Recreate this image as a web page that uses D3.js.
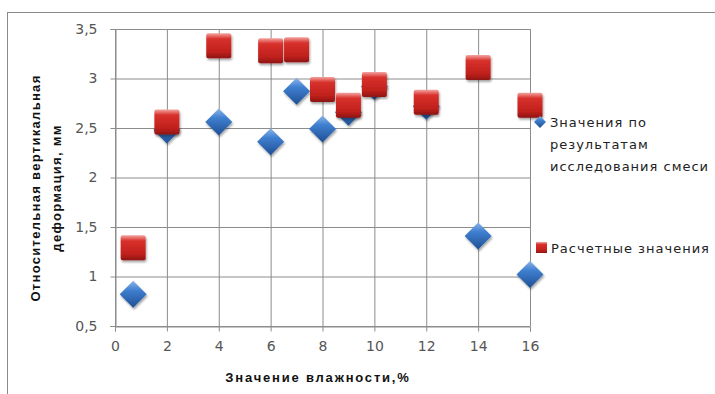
<!DOCTYPE html>
<html>
<head>
<meta charset="utf-8">
<script src="https://cdn.jsdelivr.net/npm/d3@7"></script>
<style>
  body { margin: 0; background: #fff; }
  svg { display: block; }
</style>
</head>
<body>
<svg id="svg" width="715" height="394"></svg>
<script>
var moisture = [0.7, 2, 4, 6, 7, 8, 9, 10, 12, 14, 16]
var measured = [0.82, 2.48, 2.56, 2.36, 2.87, 2.49, 2.66, 2.92, 2.72, 1.41, 1.02]
var calculated = [1.29, 2.56, 3.33, 3.28, 3.29, 2.89, 2.73, 2.94, 2.76, 3.11, 2.73]
var xTicks = [0, 2, 4, 6, 8, 10, 12, 14, 16]
var yTicks = [0.5, 1, 1.5, 2, 2.5, 3, 3.5]
var seriesNames = ["Значения по результатам исследования смеси", "Расчетные значения"]

var svg = d3.select("#svg")
var fmt = function (v) { return String(v).replace(".", ",") }

var x = d3.scaleLinear().domain([0, 16]).range([115, 530])
var y = d3.scaleLinear().domain([0.5, 3.5]).range([326, 29])

// gradients for markers
var defs = svg.append("defs")
var gr = defs.append("linearGradient").attr("id", "gRed").attr("x1", 0).attr("y1", 0).attr("x2", 0).attr("y2", 1)
gr.append("stop").attr("offset", "0%").attr("stop-color", "#f3a4a0")
gr.append("stop").attr("offset", "22%").attr("stop-color", "#d8312c")
gr.append("stop").attr("offset", "75%").attr("stop-color", "#c0201c")
gr.append("stop").attr("offset", "100%").attr("stop-color", "#8e1512")
var gb = defs.append("linearGradient").attr("id", "gBlue").attr("x1", 0).attr("y1", 0).attr("x2", 0).attr("y2", 1)
gb.append("stop").attr("offset", "0%").attr("stop-color", "#8db4e8")
gb.append("stop").attr("offset", "35%").attr("stop-color", "#3f7fd0")
gb.append("stop").attr("offset", "100%").attr("stop-color", "#1f4f93")
var sh = defs.append("filter").attr("id", "shadow").attr("x", "-30%").attr("y", "-30%").attr("width", "160%").attr("height", "160%")
sh.append("feDropShadow").attr("dx", 1).attr("dy", 2).attr("stdDeviation", 1.2).attr("flood-color", "#000").attr("flood-opacity", 0.35)

// outer frame
svg.append("rect").attr("x", 7.5).attr("y", 12.5).attr("width", 720).attr("height", 400)
    .attr("fill", "none").attr("stroke", "#8a8a8a")

// grid
var g = svg.append("g")
g.selectAll(".vgrid").data(xTicks).enter().append("line")
    .attr("x1", function (d) { return x(d) + 0.5 }).attr("x2", function (d) { return x(d) + 0.5 })
    .attr("y1", y(3.5)).attr("y2", y(0.5))
    .attr("stroke", "#8c8c8c").attr("stroke-width", 1)
g.selectAll(".hgrid").data(yTicks).enter().append("line")
    .attr("x1", x(0)).attr("x2", x(16))
    .attr("y1", function (d) { return y(d) + 0.5 }).attr("y2", function (d) { return y(d) + 0.5 })
    .attr("stroke", "#8c8c8c").attr("stroke-width", 1)

// axes
var xAxis = svg.append("g").attr("transform", "translate(0," + (y(0.5) + 0.5) + ")")
    .call(d3.axisBottom(x).tickValues(xTicks).tickFormat(fmt).tickSize(5).tickPadding(10))
var yAxis = svg.append("g").attr("transform", "translate(" + (x(0) + 0.5) + ",0)")
    .call(d3.axisLeft(y).tickValues(yTicks).tickFormat(fmt).tickSize(5).tickPadding(13))
;[xAxis, yAxis].forEach(function (a) {
    a.select(".domain").attr("stroke", "#8c8c8c")
    a.selectAll(".tick line").attr("stroke", "#8c8c8c")
    a.selectAll("text").attr("fill", "#555").style("font-family", "DejaVu Sans, Verdana, sans-serif").style("font-size", "14px")
})

// series: measured (diamonds) under calculated (squares)
var diamond = "M0,-13.5L13.5,0L0,13.5L-13.5,0Z"
svg.append("g").selectAll("path").data(moisture).enter().append("path")
    .attr("d", diamond)
    .attr("transform", function (d, i) { return "translate(" + x(d) + "," + y(measured[i]) + ")" })
    .attr("fill", "url(#gBlue)").attr("filter", "url(#shadow)")

svg.append("g").selectAll("rect").data(moisture).enter().append("rect")
    .attr("x", function (d) { return x(d) - 12.5 })
    .attr("y", function (d, i) { return y(calculated[i]) - 12.5 })
    .attr("width", 25).attr("height", 25)
    .attr("rx", 2)
    .attr("fill", "url(#gRed)").attr("filter", "url(#shadow)")

// legend
var leg = svg.append("g").style("font-family", "DejaVu Sans, Verdana, sans-serif").style("font-size", "13px")
    .style("letter-spacing", "1px").attr("fill", "#222")
leg.append("path").attr("d", "M0,-6L6,0L0,6L-6,0Z").attr("transform", "translate(540,122)").attr("fill", "url(#gBlue)")
var lt = leg.append("text").attr("x", 550).attr("y", 127)
lt.append("tspan").attr("x", 550).attr("dy", 0).text("Значения по")
lt.append("tspan").attr("x", 550).attr("dy", 22).text("результатам")
lt.append("tspan").attr("x", 550).attr("dy", 22).text("исследования смеси")
leg.append("rect").attr("x", 536).attr("y", 242).attr("width", 11).attr("height", 11).attr("fill", "url(#gRed)")
leg.append("text").attr("x", 551).attr("y", 253).text(seriesNames[1])

// axis titles
var yt = svg.append("text").attr("transform", "translate(40,188) rotate(-90)")
    .attr("text-anchor", "middle")
    .style("font-family", "Liberation Sans, Arial, sans-serif").style("font-size", "13px").style("font-weight", "bold")
    .style("letter-spacing", "1.3px")
    .attr("fill", "#111")
yt.append("tspan").attr("x", 0).attr("dy", 0).text("Относительная  вертикальная")
yt.append("tspan").attr("x", 0).attr("dy", 21).text("деформация, мм")

svg.append("text").attr("x", 318).attr("y", 382).attr("text-anchor", "middle")
    .style("font-family", "Liberation Sans, Arial, sans-serif").style("font-size", "13px").style("font-weight", "bold")
    .style("letter-spacing", "1.8px")
    .attr("fill", "#111")
    .text("Значение влажности,%")
</script>
</body>
</html>
